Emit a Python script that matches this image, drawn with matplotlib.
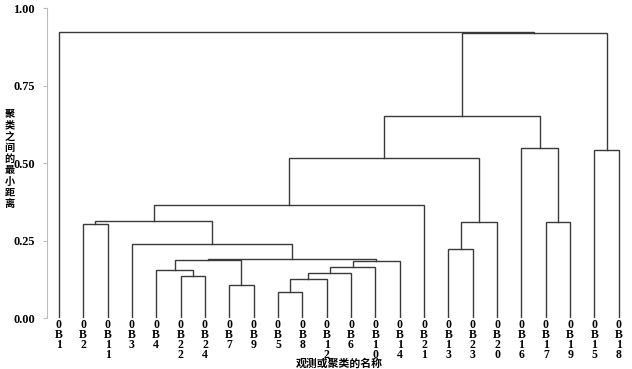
import matplotlib
matplotlib.use("Agg")
import matplotlib.pyplot as plt
import matplotlib.transforms as mtransforms

plt.rcParams['font.family'] = ['Liberation Serif', 'Noto Sans CJK SC']

# 叶节点顺序
leaves = ['0B1', '0B2', '0B11', '0B3', '0B4', '0B22', '0B24', '0B7', '0B9', '0B5', '0B8',
          '0B12', '0B6', '0B10', '0B14', '0B21', '0B13', '0B23', '0B20', '0B16', '0B17',
          '0B19', '0B15', '0B18']

# 合并步骤: 左, 右, 高度 (m# 指之前的合并)
merge_left = ['0B5', 'm0', 'm1', 'm2', 'm3', '0B22', '0B4', '0B7', 'm6', 'm8', '0B3', '0B2',
              'm11', 'm12', '0B13', 'm14', 'm13', '0B17', '0B16', 'm16', '0B15', 'm19', '0B1']
merge_right = ['0B8', '0B12', '0B6', '0B10', '0B14', '0B24', 'm5', '0B9', 'm7', 'm4', 'm9', '0B11',
               'm10', '0B21', '0B23', '0B20', 'm15', '0B19', 'm17', 'm18', '0B18', 'm20', 'm21']
merge_height = [0.084, 0.126, 0.145, 0.165, 0.186, 0.135, 0.155, 0.108, 0.188, 0.192, 0.239, 0.305,
                0.313, 0.365, 0.223, 0.311, 0.517, 0.311, 0.550, 0.652, 0.544, 0.920, 0.922]

yticks = [0.00, 0.25, 0.50, 0.75, 1.00]
ylabel = '聚类之间的最小距离'
xlabel = '观测或聚类的名称'

fig = plt.figure(figsize=(6.32, 3.69), dpi=100)
ax = fig.add_axes([0.0739, 0.1374, 0.9245, 0.8401])

pos = {name: i for i, name in enumerate(leaves)}
hgt = {name: 0.0 for name in leaves}
lc = '#3a3a3a'
for k, (a, b, h) in enumerate(zip(merge_left, merge_right, merge_height)):
    xa, xb = pos[a], pos[b]
    ax.plot([xa, xa, xb, xb], [hgt[a], h, h, hgt[b]], color=lc, lw=1.0,
            solid_joinstyle='miter')
    pos['m%d' % k] = (xa + xb) / 2
    hgt['m%d' % k] = h

ax.set_xlim(-0.5, 23.5)
ax.set_ylim(0, 1.0)
for s in ['top', 'right', 'bottom']:
    ax.spines[s].set_visible(False)
ax.spines['left'].set_color('#b8bcc4')
ax.spines['left'].set_linewidth(0.8)
ax.set_yticks(yticks)
ax.set_yticklabels(['%.2f' % v for v in yticks], fontsize=8.8, fontweight='bold')
ax.tick_params(axis='y', length=3, color='#b8bcc4', pad=5.5)
ax.set_xticks([])

trans = mtransforms.blended_transform_factory(ax.transData, ax.transAxes)
for i, name in enumerate(leaves):
    ax.text(i, -0.003, '\n'.join(name), transform=trans, ha='center', va='top',
            fontsize=8.5, fontweight='bold', linespacing=0.76)

fig.text(0.537, 0.001, xlabel, ha='center', va='bottom', fontsize=7.8, fontweight='bold')

# 纵轴标题: 逐字竖排
top_px, pitch = 114.6, 11.2
for j, ch in enumerate(ylabel):
    fig.text(9.5 / 632, 1 - (top_px + j * pitch) / 369, ch, ha='center', va='center',
             fontsize=7.3, fontweight='bold')

fig.savefig('out.png', dpi=100)
